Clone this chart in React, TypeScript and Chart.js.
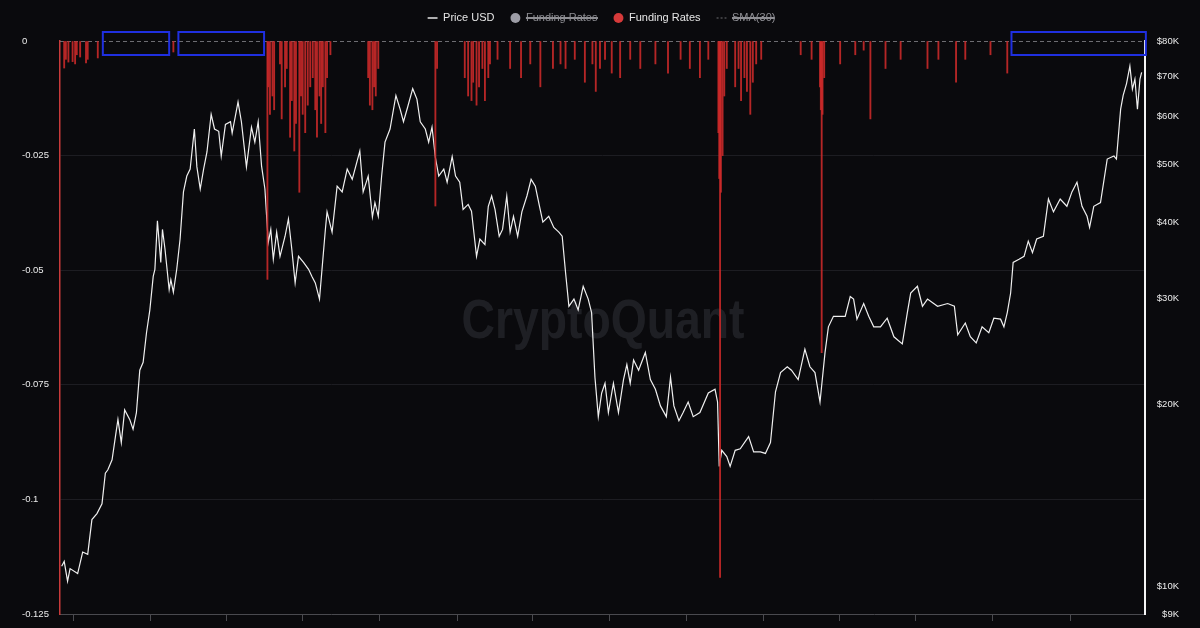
import React, { useEffect, useRef } from "react";
import { Chart, registerables } from "chart.js";

Chart.register(...registerables);

const FONT = "'Liberation Sans', Arial, Helvetica, sans-serif";

// ---- Price USD (day index from 2020-09-15, USD) ----
const priceDays = [
  2, 5, 9, 12, 21, 27, 33, 38, 44, 50, 54, 57, 62, 66, 69, 73, 77, 83, 87, 91, 95, 99, 103, 107, 111, 113, 116,
  120, 122, 125, 130, 132, 135, 139, 143, 147, 151, 155, 160, 163, 167, 171, 175, 180, 184, 189, 192, 197, 203,
  205, 212, 216, 222, 228, 232, 236, 240, 244, 248, 251, 254, 258, 262, 268, 272, 276, 280, 284, 290, 296, 300,
  304, 309, 316, 318, 324, 330, 336, 342, 348, 357, 361, 367, 372, 375, 379, 383, 387, 393, 400, 405, 409, 414,
  420, 425, 429, 435, 439, 443, 447, 451, 457, 461, 467, 471, 476, 480, 486, 490, 496, 500, 506, 510, 514, 518,
  523, 527, 532, 536, 540, 545, 550, 556, 561, 566, 571, 575, 582, 588, 594, 598, 602, 606, 612, 617, 623, 629,
  633, 637, 641, 645, 649, 653, 659, 665, 671, 675, 679, 683, 689, 697, 703, 709, 715, 722, 727, 731, 737, 742,
  748, 754, 762, 772, 780, 783, 785, 788, 794, 798, 804, 810, 820, 826, 834, 840, 846, 852, 858, 866, 871, 879,
  887, 893, 899, 905, 911, 915, 921, 929, 935, 941, 945, 949, 957, 963, 969, 977, 985, 993, 1003, 1009, 1013,
  1021, 1027, 1033, 1045, 1057, 1065, 1069, 1078, 1084, 1091, 1098, 1106, 1112, 1120, 1124, 1128, 1132, 1135,
  1142, 1148, 1153, 1158, 1163, 1171, 1177, 1183, 1191, 1199, 1205, 1211, 1217, 1223, 1226, 1231, 1239, 1247,
  1255, 1258, 1263, 1266, 1270, 1274, 1277, 1280, 1283, 1286, 1288,
];
const priceValues = [
  10800, 11000, 10200, 10700, 10500, 11400, 11300, 12900, 13200, 13700, 15400, 15600, 16200, 17700, 18900, 17300,
  19600, 18900, 18200, 19400, 22800, 23500, 26300, 28700, 32600, 33500, 40300,
  34400, 39000, 36200, 31000, 32200, 30700, 33500, 37600, 45000, 47800, 49100, 57200, 49500, 45500, 49100, 52400,
  60500, 57200, 56700, 51600, 58200, 58800,
  56300, 63400, 58800, 49500, 57600, 54400, 58800, 49700, 45500, 37100, 39000, 34800, 38600, 35200, 38000, 40600,
  36200, 31800, 35200, 34400, 33500, 32600,
  31800, 29900, 39000, 41700, 38600, 46000, 45000, 49100, 47200, 52600, 45000, 47800, 40900, 43200, 41000, 47800,
  54400, 57200, 65000, 61700, 58800, 62200,
  66700, 64100, 58800, 57200, 54400, 57600, 51300, 47800, 49100, 46700, 51500, 47800, 46700, 42100, 42900, 41800,
  35200, 37600, 36800, 42600, 44300, 42100,
  38000, 39000, 44300, 38600, 41000, 38000, 41700, 44300, 47200, 46000, 42600, 40100, 41000, 39300, 38600, 38000,
  33100, 29100, 29900, 28700, 31400, 29900,
  28400, 22200, 19100, 20900, 21700, 19400, 21700, 19400, 22000, 23300, 21700, 23700, 22800, 24400, 22000, 21200,
  19900, 19100, 22200, 19900, 18800, 19400,
  20200, 19100, 19400, 20900, 21200, 20200, 15800, 16800, 16400, 15800, 16800, 16900, 17700, 16700, 16700, 16600,
  17300, 21000, 22600, 23100, 22800, 22000,
  24700, 23100, 22600, 20200, 24400, 26900, 28000, 28000, 28000, 30200, 29900, 27700, 29400, 28000, 26900, 26900,
  27800, 25900, 25200, 28400, 30600,
  31400, 29100, 29900, 29100, 29400, 29100, 26100, 27300, 25900, 25300, 26900, 26300, 27800, 27700, 26900, 28400,
  30600, 34400,
  34800, 35200, 37300, 35700, 37600, 38000, 43800, 41700, 43800, 42600, 45000, 46700, 42600, 41000, 39300, 42600,
  43200, 51000,
  51600, 51000, 61700, 65000, 68000, 72700, 66600, 69200, 61700, 69200, 71000,
];

// ---- Funding Rates (only the negative prints are visible on this axis) ----
const fundingDays = [
  5, 7, 10, 15, 18, 20, 24, 31, 33, 45, 135,
  247, 248, 250, 253, 255, 262, 264, 268, 270, 274, 276, 279, 281, 285, 287, 289, 292, 295, 298, 301, 304, 306,
  309, 311, 313, 316, 318, 322,
  367, 369, 372, 374, 376, 379,
  447, 449,
  482, 486, 490, 492, 496, 499, 503, 506, 510, 512, 521, 536, 549, 560, 572, 587, 596, 602, 613, 625, 634, 638,
  643, 649, 657, 667, 679, 691, 709, 724, 739, 750, 762, 772,
  784, 785, 786, 787, 789, 791, 794, 804, 808, 811, 815, 818, 822, 825, 829, 835, 882, 895,
  905, 906, 907, 908, 910,
  929, 947, 957, 965, 983, 1001, 1033, 1046, 1067, 1078, 1108, 1128,
];
const fundingValues = [
  -0.0059, -0.004, -0.0046, -0.0045, -0.005, -0.003, -0.0035, -0.0048, -0.004, -0.0037, -0.0024,
  -0.052, -0.01, -0.016, -0.012, -0.015, -0.005, -0.017, -0.01, -0.006, -0.021, -0.013, -0.024, -0.018, -0.033,
  -0.012, -0.016, -0.02, -0.014, -0.01, -0.008, -0.015, -0.021,
  -0.012, -0.018, -0.01, -0.02, -0.008, -0.003,
  -0.008, -0.014, -0.015, -0.01, -0.012, -0.006,
  -0.036, -0.006,
  -0.008, -0.012, -0.013, -0.009, -0.014, -0.01, -0.006, -0.013, -0.008, -0.005, -0.004, -0.006, -0.008, -0.005,
  -0.01, -0.006, -0.005, -0.006, -0.004, -0.009, -0.005, -0.011,
  -0.006, -0.004, -0.007, -0.008, -0.004, -0.006, -0.005, -0.007, -0.004, -0.006, -0.008, -0.004,
  -0.02, -0.03, -0.117, -0.033, -0.025, -0.012, -0.006, -0.01, -0.006, -0.013, -0.008, -0.011, -0.016, -0.009,
  -0.005, -0.004, -0.003, -0.004,
  -0.01, -0.015, -0.068, -0.016, -0.008,
  -0.005, -0.003, -0.002, -0.017, -0.006, -0.004, -0.006, -0.004, -0.009, -0.004, -0.003, -0.007,
];

// ---- Axes ----
const xMaxDay = 1292;
const xTickDays = [16, 108, 198, 289, 381, 473, 563, 654, 746, 838, 928, 1019, 1111, 1203];
const xTickLabels = [
  "Oct 2020", "Jan 2021", "Apr 2021", "Jul 2021", "Oct 2021", "Jan 2022", "Apr 2022",
  "Jul 2022", "Oct 2022", "Jan 2023", "Apr 2023", "Jul 2023", "Oct 2023", "Jan 2024",
];
const fundingTickValues = [0, -0.025, -0.05, -0.075, -0.1, -0.125];
const fundingTickLabels = ["0", "-0.025", "-0.05", "-0.075", "-0.1", "-0.125"];
const priceTickValues = [9000, 10000, 20000, 30000, 40000, 50000, 60000, 70000, 80000];
const priceTickLabels = ["$9K", "$10K", "$20K", "$30K", "$40K", "$50K", "$60K", "$70K", "$80K"];

// ---- Legend ----
const legendNames = ["Price USD", "Funding Rates", "Funding Rates", "SMA(30)"];

// ---- Highlight boxes (day ranges, drawn around the zero line) ----
const highlightStartDays = [51, 141, 1133];
const highlightEndDays = [130, 243, 1293];

export default function App() {
  const canvasRef = useRef<HTMLCanvasElement | null>(null);

  useEffect(() => {
    const canvas = canvasRef.current;
    if (!canvas) return;

    const overlay = {
      id: "overlay",
      afterLayout(chart: any) {
        const lg = chart.legend;
        if (lg) {
          const h = lg.bottom - lg.top;
          lg.top = lg.top - 7.5;
          lg.bottom = lg.top + h;
          lg.left = lg.left + 1;
          lg.right = lg.right + 1;
        }
      },
      beforeDatasetsDraw(chart: any) {
        const { ctx, chartArea } = chart;
        const yF = chart.scales.yFund;
        ctx.save();
        // watermark
        const cx = (chartArea.left + chartArea.right) / 2 + 0.5;
        const cy = 323;
        ctx.font = `bold 56px ${FONT}`;
        const w = ctx.measureText("CryptoQuant").width;
        ctx.translate(cx, cy);
        ctx.scale(283 / w, 1);
        ctx.fillStyle = "rgba(200,205,225,0.11)";
        ctx.textAlign = "center";
        ctx.textBaseline = "middle";
        ctx.fillText("CryptoQuant", 0, 0);
        ctx.restore();
        // dashed zero line
        ctx.save();
        const y0 = Math.round(yF.getPixelForValue(0)) + 0.5;
        ctx.strokeStyle = "rgba(120,120,125,0.9)";
        ctx.lineWidth = 1;
        ctx.setLineDash([4, 3]);
        ctx.beginPath();
        ctx.moveTo(chartArea.left, y0);
        ctx.lineTo(chartArea.right, y0);
        ctx.stroke();
        ctx.restore();
      },
      afterDatasetsDraw(chart: any) {
        const { ctx } = chart;
        const xS = chart.scales.x;
        const yF = chart.scales.yFund;
        ctx.save();
        ctx.strokeStyle = "#1f2fe0";
        ctx.lineWidth = 2;
        const top = yF.getPixelForValue(0) - 9;
        const bottom = yF.getPixelForValue(0) + 14;
        highlightStartDays.forEach((d, i) => {
          const x1 = xS.getPixelForValue(d);
          const x2 = xS.getPixelForValue(highlightEndDays[i]);
          ctx.strokeRect(x1, top, x2 - x1, bottom - top);
        });
        ctx.restore();
      },
    };

    const chart = new Chart(canvas, {
      type: "line",
      data: {
        datasets: [
          {
            type: "line",
            label: legendNames[0],
            data: priceDays.map((d, i) => ({ x: d, y: priceValues[i] })),
            yAxisID: "yPrice",
            borderColor: "#f0f0f0",
            borderWidth: 1.2,
            pointRadius: 0,
            tension: 0,
            order: 2,
          },
          {
            type: "bar",
            label: legendNames[1],
            data: [],
            hidden: true,
            yAxisID: "yFund",
            backgroundColor: "#9a9aa3",
            order: 3,
          },
          {
            type: "bar",
            label: legendNames[2],
            data: fundingDays.map((d, i) => ({ x: d, y: fundingValues[i] })),
            yAxisID: "yFund",
            backgroundColor: "rgba(205,42,42,0.88)",
            barThickness: 1.2,
            grouped: false,
            borderWidth: 0,
            order: 1,
          },
          {
            type: "line",
            label: legendNames[3],
            data: [],
            hidden: true,
            yAxisID: "yFund",
            borderColor: "#777",
            borderDash: [3, 3],
            pointRadius: 0,
            order: 4,
          },
        ] as any,
      },
      options: {
        animation: false,
        responsive: true,
        maintainAspectRatio: false,
        layout: { padding: { top: 4, right: 21, left: 22, bottom: 0 } },
        plugins: {
          tooltip: { enabled: false },
          legend: {
            display: true,
            position: "top",
            align: "center",
            labels: {
              usePointStyle: true,
              boxWidth: 10,
              boxHeight: 7,
              padding: 16,
              font: { family: FONT, size: 11 },
              color: "#e6e6e6",
              generateLabels: () => [
                {
                  text: legendNames[0], fillStyle: "rgba(0,0,0,0)", strokeStyle: "#e6e6e6", lineWidth: 1.4,
                  pointStyle: "line", hidden: false, datasetIndex: 0, fontColor: "#e6e6e6",
                },
                {
                  text: legendNames[1], fillStyle: "#9d9da6", strokeStyle: "#9d9da6", lineWidth: 0,
                  pointStyle: "circle", hidden: true, datasetIndex: 1, fontColor: "#8e8e93",
                },
                {
                  text: legendNames[2], fillStyle: "#d63a3a", strokeStyle: "#d63a3a", lineWidth: 0,
                  pointStyle: "circle", hidden: false, datasetIndex: 2, fontColor: "#e6e6e6",
                },
                {
                  text: legendNames[3], fillStyle: "rgba(0,0,0,0)", strokeStyle: "#6e6e73", lineWidth: 1,
                  lineDash: [2, 2], pointStyle: "line", hidden: true, datasetIndex: 3, fontColor: "#8e8e93",
                },
              ] as any,
            },
          },
        },
        scales: {
          x: {
            type: "linear",
            min: 0,
            max: xMaxDay,
            offset: false,
            afterBuildTicks: (s: any) => {
              s.ticks = xTickDays.map((v) => ({ value: v }));
            },
            afterFit: (s: any) => {
              s.height = 14;
            },
            ticks: {
              autoSkip: false,
              maxRotation: 0,
              padding: 6,
              color: "#bdbdbd",
              font: { family: FONT, size: 10 },
              callback: (v: any) => {
                const i = xTickDays.indexOf(Number(v));
                return i >= 0 ? xTickLabels[i] : "";
              },
            },
            grid: { offset: false, drawOnChartArea: false, drawTicks: true, tickLength: 7, color: "#4a4a4f" },
            border: { display: true, color: "#4a4a4f", width: 1 },
          },
          yFund: {
            type: "linear",
            position: "left",
            min: -0.125,
            max: 0,
            afterBuildTicks: (s: any) => {
              s.ticks = fundingTickValues.map((v) => ({ value: v }));
            },
            afterFit: (s: any) => {
              s.width = 38;
              s.paddingTop = 0;
              s.paddingBottom = 0;
            },
            ticks: {
              crossAlign: "far",
              padding: 4,
              color: "#ececec",
              font: { family: FONT, size: 9.5 },
              callback: (v: any) => {
                const i = fundingTickValues.indexOf(Number(v));
                return i >= 0 ? fundingTickLabels[i] : "";
              },
            },
            grid: {
              drawTicks: false,
              color: (c: any) =>
                c.tick && (c.tick.value === 0 || c.tick.value === -0.125) ? "rgba(0,0,0,0)" : "#1d1d22",
            },
            border: { display: true, color: "#c83a3a", width: 1.5 },
          },
          yPrice: {
            type: "logarithmic",
            position: "right",
            min: 9000,
            max: 80000,
            afterBuildTicks: (s: any) => {
              s.ticks = priceTickValues.map((v) => ({ value: v }));
            },
            afterFit: (s: any) => {
              s.width = 34;
              s.paddingTop = 0;
              s.paddingBottom = 0;
            },
            ticks: {
              crossAlign: "far",
              padding: 8,
              color: "#ececec",
              font: { family: FONT, size: 9.5 },
              callback: (v: any) => {
                const i = priceTickValues.indexOf(Number(v));
                return i >= 0 ? priceTickLabels[i] : "";
              },
            },
            grid: { drawOnChartArea: false, drawTicks: false },
            border: { display: true, color: "#f5f5f5", width: 2 },
          },
        },
      } as any,
      plugins: [overlay],
    });

    return () => chart.destroy();
  }, []);

  return (
    <div
      style={{
        position: "fixed",
        left: 0,
        top: 0,
        width: 1200,
        height: 628,
        background: "#0a0a0d",
        overflow: "hidden",
      }}
    >
      <canvas ref={canvasRef} />
    </div>
  );
}
